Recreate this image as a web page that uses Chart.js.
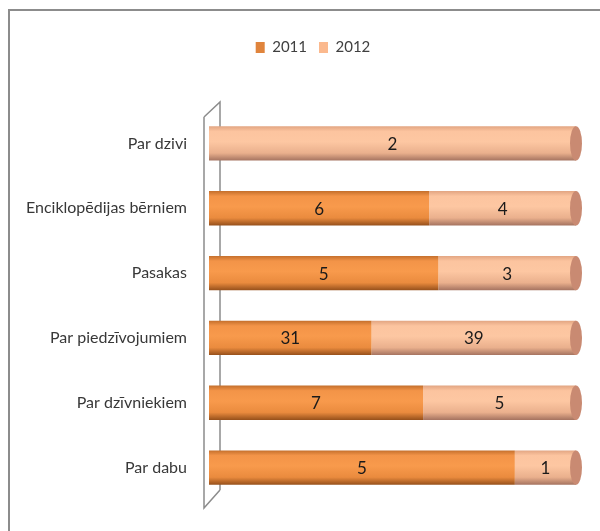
<!DOCTYPE html>
<html>
<head>
<meta charset="utf-8">
<script src="https://cdn.jsdelivr.net/npm/chart.js@4.4.1/dist/chart.umd.min.js"></script>
<style>
  html, body { margin: 0; padding: 0; background: #fff; }
  #wrap { width: 600px; height: 531px; position: relative; }
</style>
</head>
<body>
<div id="wrap"><canvas id="books-chart" width="600" height="531"></canvas></div>
<script>
const categories = ["Par dzivi", "Enciklopēdijas bērniem", "Pasakas", "Par piedzīvojumiem", "Par dzīvniekiem", "Par dabu"]
const values2011 = [0, 6, 5, 31, 7, 5]
const values2012 = [2, 4, 3, 39, 5, 1]
const seriesNames = ["2011", "2012"]

// 100% stacked: share of each row
const totals = categories.map((c, i) => values2011[i] + values2012[i])
const share = (arr) => arr.map((v, i) => (v / totals[i]) * 100)

const FONT = "Lato, Roboto, sans-serif"
const FONT_SIZE = 16
const BAR_PCT = 0.53

const palettes = {
  orange: { flat: "#e0843c", stops: ["#c46f2c", "#f39448", "#f89a4c", "#ea8b3e", "#96501b"] },
  peach: { flat: "#fbb98e", cap: "#c98a72", stops: ["#e2a582", "#fcc49f", "#fdc7a2", "#eab08d", "#a57360"] },
}

function cylinder(pal) {
  return (ctx) => {
    if (ctx.type !== "data") return pal.flat
    const chart = ctx.chart
    const y = chart.scales.y
    if (!y) return pal.flat
    const center = y.getPixelForValue(ctx.dataIndex)
    const half = ((y.bottom - y.top) / categories.length) * BAR_PCT / 2
    const g = chart.ctx.createLinearGradient(0, center - half, 0, center + half)
    const pos = [0, 0.15, 0.45, 0.78, 1]
    pal.stops.forEach((c, i) => g.addColorStop(pos[i], c))
    return g
  }
}

// frame, back wall, end caps and value labels
const decor = {
  id: "decor",
  beforeInit(chart) {
    const fit = chart.legend.fit
    chart.legend.fit = function () {
      fit.call(this)
      this.height += 46
    }
  },
  afterLayout(chart) {
    chart.legend.left += 20
    chart.legend.right += 20
  },
  beforeDraw(chart) {
    const c = chart.ctx
    const a = chart.chartArea
    c.save()
    c.fillStyle = "#fff"
    c.fillRect(0, 0, chart.width, chart.height)
    c.strokeStyle = "#8c8c8c"
    c.lineWidth = 2
    c.beginPath()
    c.moveTo(9, chart.height)
    c.lineTo(9, 10)
    c.lineTo(chart.width, 10)
    c.stroke()
    // 3d wall
    c.lineWidth = 1.5
    c.beginPath()
    c.moveTo(a.left - 5, a.top + 6)
    c.lineTo(a.left + 11, a.top - 9)
    c.lineTo(a.left + 11, a.bottom - 10)
    c.moveTo(a.left - 5, a.top + 6)
    c.lineTo(a.left - 5, a.bottom + 8)
    c.lineTo(a.left + 11, a.bottom - 10)
    c.stroke()
    c.restore()
  },
  afterDatasetsDraw(chart) {
    const c = chart.ctx
    c.save()
    chart.getDatasetMeta(1).data.forEach((bar) => {
      c.fillStyle = palettes.peach.cap
      c.beginPath()
      c.ellipse(bar.x, bar.y, 6, bar.height / 2, 0, 0, Math.PI * 2)
      c.fill()
    })
    c.fillStyle = "#1a1a1a"
    c.font = FONT_SIZE + 1 + "px " + FONT
    c.textAlign = "center"
    c.textBaseline = "middle"
    const raw = [values2011, values2012]
    chart.data.datasets.forEach((ds, di) => {
      chart.getDatasetMeta(di).data.forEach((bar, i) => {
        const v = raw[di][i]
        if (!v) return
        c.fillText(String(v), (bar.x + bar.base) / 2, bar.y + 1)
      })
    })
    c.restore()
  },
}

new Chart(document.getElementById("books-chart"), {
  type: "bar",
  data: {
    labels: categories,
    datasets: [
      { label: seriesNames[0], data: share(values2011), backgroundColor: cylinder(palettes.orange), borderWidth: 0 },
      { label: seriesNames[1], data: share(values2012), backgroundColor: cylinder(palettes.peach), borderWidth: 0 },
    ],
  },
  options: {
    indexAxis: "y",
    responsive: false,
    animation: false,
    layout: { padding: { top: 28, right: 24, bottom: 31, left: 10 } },
    datasets: { bar: { categoryPercentage: 1, barPercentage: BAR_PCT } },
    plugins: {
      tooltip: { enabled: false },
      legend: {
        position: "top",
        labels: {
          boxWidth: 9,
          boxHeight: 11,
          padding: 12,
          color: "#404040",
          font: { family: FONT, size: 15 },
          generateLabels: (chart) =>
            chart.data.datasets.map((ds, i) => ({
              text: ds.label,
              fillStyle: i === 0 ? palettes.orange.flat : palettes.peach.flat,
              strokeStyle: "transparent",
              lineWidth: 0,
              datasetIndex: i,
              fontColor: "#404040",
            })),
        },
      },
    },
    scales: {
      x: { stacked: true, min: 0, max: 100, display: false },
      y: {
        stacked: true,
        grid: { display: false },
        border: { display: false },
        ticks: { color: "#383838", padding: 14, font: { family: FONT, size: FONT_SIZE } },
        afterFit: (scale) => { scale.width = 199 },
      },
    },
  },
  plugins: [decor],
})
</script>
</body>
</html>
